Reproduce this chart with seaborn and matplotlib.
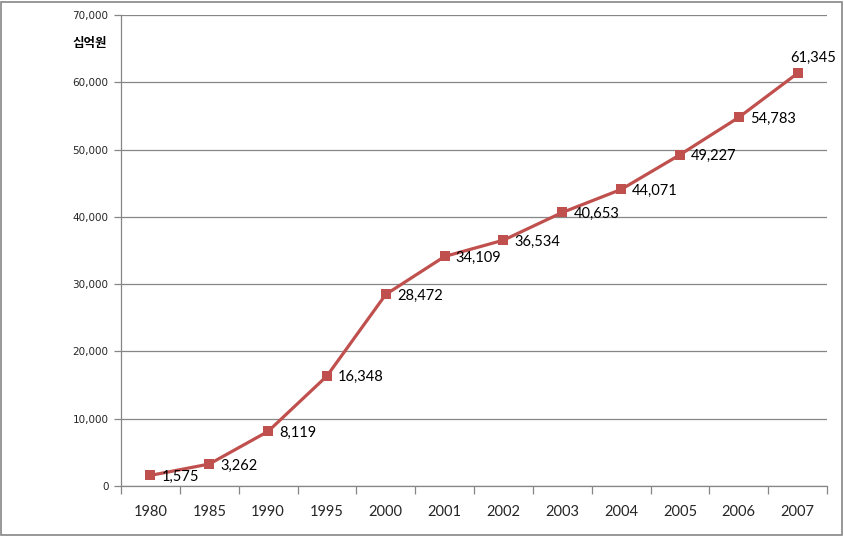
import matplotlib
matplotlib.use("Agg")
import matplotlib.pyplot as plt
import seaborn as sns
import pandas as pd
import numpy as np

years = ["1980", "1985", "1990", "1995", "2000", "2001", "2002", "2003",
         "2004", "2005", "2006", "2007"]
values = [1575, 3262, 8119, 16348, 28472, 34109, 36534, 40653,
          44071, 49227, 54783, 61345]
unit_label = "십억원"

sns.set_theme(style="white")
plt.rcParams["font.family"] = ["Lato", "DejaVu Sans"]

df = pd.DataFrame({"year": years, "value": values})
line_color = "#C0504D"
grid_color = "#868686"

fig = plt.figure(figsize=(8.44, 5.37), dpi=100)
fig.patch.set_facecolor("white")
# outer border like the original chart frame
fig.add_artist(plt.Rectangle((0.001, 0.003), 0.997, 0.994, transform=fig.transFigure,
                             fill=False, edgecolor=grid_color, linewidth=1.2))
ax = fig.add_axes([0.1434, 0.095, 0.8365, 0.8771])

sns.lineplot(data=df, x="year", y="value", ax=ax, color=line_color, linewidth=2.3,
             marker="s", markersize=7, markeredgewidth=0, sort=False, zorder=3)

ax.set_ylim(0, 70000)
ax.set_xlim(-0.5, len(years) - 0.5)
ax.set_yticks(np.arange(0, 70001, 10000))
ax.set_yticklabels([f"{v:,}" for v in range(0, 70001, 10000)], fontsize=7.5,
                   family="DejaVu Sans")
ax.yaxis.grid(True, color=grid_color, linewidth=0.9)
ax.set_axisbelow(True)

# category boundary ticks on x axis
ax.set_xticks(range(len(years)))
ax.set_xticklabels(years, fontsize=10.5)
ax.tick_params(axis="x", which="major", length=0, pad=14)
ax.set_xticks(np.arange(-0.5, len(years), 1.0), minor=True)
ax.tick_params(axis="x", which="minor", length=6, color=grid_color, width=0.9, direction="out",
               bottom=True)
ax.tick_params(axis="y", length=5, color=grid_color, width=0.9, direction="out", left=True, pad=4)

for s in ["top", "right"]:
    ax.spines[s].set_visible(False)
for s in ["left", "bottom"]:
    ax.spines[s].set_color(grid_color)
    ax.spines[s].set_linewidth(0.9)

ax.set_xlabel("")
ax.set_ylabel("")

# data labels
for i, v in enumerate(values):
    if i == len(values) - 1:
        ax.annotate(f"{v:,}", (i, v), xytext=(-5, 6), textcoords="offset points",
                    ha="left", va="bottom", fontsize=10.5, color="black")
    else:
        ax.annotate(f"{v:,}", (i, v), xytext=(8, -1), textcoords="offset points",
                    ha="left", va="center", fontsize=10.5, color="black")

fig.text(107 / 844, 1 - 43 / 537, unit_label, ha="right", va="center", fontsize=9,
         fontweight="bold", color="black", family=["Noto Sans CJK KR", "DejaVu Sans"])

fig.savefig("out.png", dpi=100)
